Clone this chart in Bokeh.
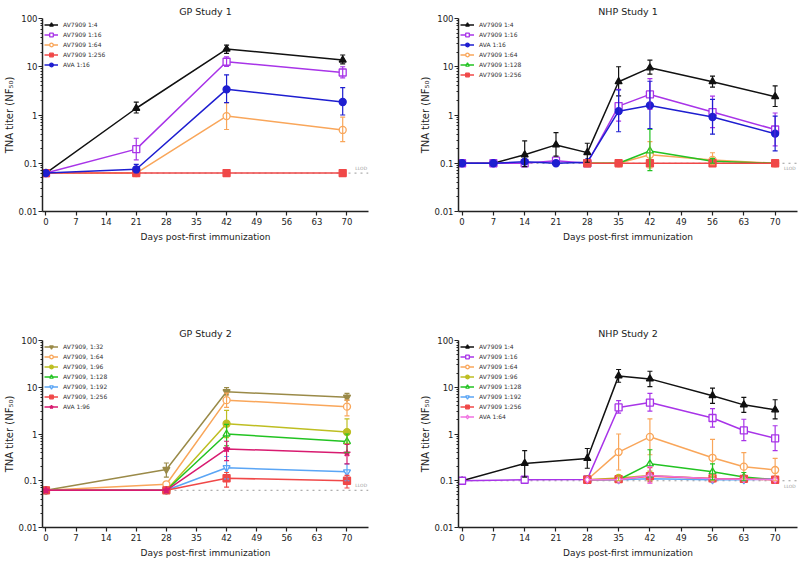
from bokeh.plotting import figure
from bokeh.models import (ColumnDataSource, Whisker, TeeHead, Legend, LegendItem,
                          Span, Label, FixedTicker, CustomJSTickFormatter, Range1d)
from bokeh.layouts import column, row
from bokeh.embed import file_html
from bokeh.resources import INLINE

FONT = "DejaVu Sans"

# ---------------- DATA ----------------
x_ticks = [0, 7, 14, 21, 28, 35, 42, 49, 56, 63, 70]
y_ticks = [0.01, 0.1, 1, 10, 100]
llod_gp = 0.0625
llod_nhp = 0.1

# GP Study 1
gp1_days = [0, 21, 42, 69]
gp1_av4 = [0.0625, 1.38, 23.3, 13.8]
gp1_av4_hi = [None, 1.85, 28.0, 17.5]
gp1_av4_lo = [None, 1.10, 19.0, 11.5]
gp1_av16 = [0.0625, 0.196, 12.7, 7.6]
gp1_av16_hi = [None, 0.33, 16.0, 10.0]
gp1_av16_lo = [None, 0.117, 10.2, 5.9]
gp1_av64 = [0.0625, 0.0625, 0.95, 0.49]
gp1_av64_hi = [None, None, 1.8, 0.9]
gp1_av64_lo = [None, None, 0.5, 0.28]
gp1_av256 = [0.0625, 0.0625, 0.0625, 0.0625]
gp1_ava16 = [0.0625, 0.075, 3.4, 1.86]
gp1_ava16_hi = [None, 0.095, 6.8, 3.7]
gp1_ava16_lo = [None, 0.064, 1.8, 1.0]

# NHP Study 1
nhp1_days = [0, 7, 14, 21, 28, 35, 42, 56, 70]
nhp1_av4 = [0.1, 0.1, 0.15, 0.24, 0.166, 4.9, 9.5, 4.9, 2.4]
nhp1_av4_hi = [None, None, 0.29, 0.43, 0.26, 10.0, 13.7, 6.4, 4.0]
nhp1_av4_lo = [None, None, 0.085, 0.14, 0.105, 2.5, 7.0, 3.8, 1.5]
nhp1_av16 = [0.1, 0.1, 0.1, 0.113, 0.1, 1.53, 2.67, 1.15, 0.5]
nhp1_av16_hi = [None, None, None, None, None, 3.4, 5.7, 2.45, 1.1]
nhp1_av16_lo = [None, None, None, None, None, 0.75, 1.3, 0.55, 0.23]
nhp1_ava16 = [0.1, 0.1, 0.108, 0.1, 0.105, 1.2, 1.58, 0.91, 0.41]
nhp1_ava16_hi = [None, None, None, None, None, 3.3, 5.0, 2.1, 0.95]
nhp1_ava16_lo = [None, None, None, None, None, 0.45, 0.52, 0.4, 0.18]
nhp1_av64 = [None, None, None, None, 0.1, 0.1, 0.15, 0.117, 0.1]
nhp1_av64_hi = [None, None, None, None, None, None, 0.28, 0.165, None]
nhp1_av64_lo = [None, None, None, None, None, None, 0.08, 0.093, None]
nhp1_av128 = [None, None, None, None, 0.1, 0.1, 0.18, 0.11, 0.1]
nhp1_av128_hi = [None, None, None, None, None, None, 0.5, 0.125, None]
nhp1_av128_lo = [None, None, None, None, None, None, 0.07, 0.1, None]
nhp1_av256 = [None, None, None, None, 0.1, 0.1, 0.1, 0.1, 0.1]

# GP Study 2
gp2_days = [0, 28, 42, 70]
gp2_av32 = [0.0625, 0.174, 8.0, 6.1]
gp2_av32_hi = [None, 0.24, 9.8, 7.4]
gp2_av32_lo = [None, 0.12, 6.9, 5.3]
gp2_av64 = [0.0625, 0.084, 5.3, 3.85]
gp2_av64_hi = [None, None, 7.5, 5.3]
gp2_av64_lo = [None, None, 3.7, 2.45]
gp2_av96 = [0.0625, 0.0625, 1.66, 1.1]
gp2_av96_hi = [None, None, 3.2, 2.1]
gp2_av96_lo = [None, None, 0.84, 0.63]
gp2_av128 = [0.0625, 0.0625, 1.0, 0.69]
gp2_av128_hi = [None, None, 1.6, 1.0]
gp2_av128_lo = [None, None, 0.56, 0.4]
gp2_av192 = [0.0625, 0.0625, 0.19, 0.155]
gp2_av192_hi = [None, None, 0.33, 0.23]
gp2_av192_lo = [None, None, 0.11, 0.1]
gp2_av256 = [0.0625, 0.0625, 0.113, 0.1]
gp2_av256_hi = [None, None, 0.15, 0.13]
gp2_av256_lo = [None, None, 0.073, 0.07]
gp2_ava96 = [0.0625, 0.0625, 0.48, 0.39]
gp2_ava96_hi = [None, None, 0.7, 0.6]
gp2_ava96_lo = [None, None, 0.27, 0.23]

# NHP Study 2
nhp2_days = [0, 14, 28, 35, 42, 56, 63, 70]
nhp2_av4 = [0.1, 0.235, 0.3, 17.5, 15.1, 6.6, 4.2, 3.3]
nhp2_av4_hi = [None, 0.44, 0.49, 24.0, 22.0, 9.6, 6.1, 5.4]
nhp2_av4_lo = [None, 0.12, 0.185, 12.8, 10.3, 4.5, 2.9, 2.1]
nhp2_av16 = [0.1, 0.105, 0.107, 3.7, 4.7, 2.2, 1.19, 0.81]
nhp2_av16_hi = [None, None, None, 5.2, 7.4, 3.5, 2.07, 1.5]
nhp2_av16_lo = [None, None, None, 2.8, 3.1, 1.4, 0.72, 0.44]
nhp2_av64 = [None, None, 0.105, 0.41, 0.87, 0.31, 0.2, 0.17]
nhp2_av64_hi = [None, None, None, 1.0, 2.1, 0.77, 0.4, 0.3]
nhp2_av64_lo = [None, None, None, 0.17, 0.36, 0.13, 0.11, 0.1]
nhp2_av96 = [None, None, 0.105, 0.115, 0.13, 0.11, 0.11, 0.105]
nhp2_av96_hi = [None, None, None, 0.125, 0.16, 0.12, None, None]
nhp2_av96_lo = [None, None, None, 0.1, 0.1, 0.1, None, None]
nhp2_av128 = [None, None, 0.105, 0.105, 0.23, 0.155, 0.12, 0.105]
nhp2_av128_hi = [None, None, None, None, 0.46, 0.23, 0.15, None]
nhp2_av128_lo = [None, None, None, None, 0.12, 0.105, 0.1, None]
nhp2_av192 = [None, None, 0.105, 0.105, 0.11, 0.105, 0.105, 0.11]
nhp2_av256 = [None, None, 0.105, 0.108, 0.125, 0.112, 0.11, 0.105]
nhp2_av256_hi = [None, None, None, None, 0.19, None, None, None]
nhp2_av256_lo = [None, None, None, None, 0.095, None, None, None]
nhp2_ava64 = [None, None, 0.105, 0.105, 0.13, 0.11, 0.108, 0.105]
nhp2_ava64_hi = [None, None, None, None, 0.2, None, None, None]
nhp2_ava64_lo = [None, None, None, None, 0.088, None, None, None]

# ---------------- STYLE ----------------
BLACK = "#111111"
PURPLE = "#A834E8"
ORANGE = "#F9A65A"
RED = "#F04848"
BLUE = "#1E1ED0"
GREEN = "#22C322"
OLIVE = "#9A8A48"
YGREEN = "#BEBE22"
LBLUE = "#5AA5F5"
CRIMSON = "#D81B70"
PINK = "#F070E0"


def panel(title, days, series, llod, llod_above, mbl, mbr, mbt, mbb, height):
    p = figure(width=400, height=height, y_axis_type="log",
               x_range=Range1d(-0.8, 75), y_range=Range1d(0.01, 100),
               output_backend="svg", toolbar_location=None,
               min_border_left=mbl, min_border_right=mbr,
               min_border_top=mbt, min_border_bottom=mbb, title=title)
    p.title.align = "center"
    p.title.text_font = FONT
    p.title.text_font_size = "9.5px"
    p.title.text_font_style = "normal"
    p.title.text_color = "#222222"
    p.title.standoff = 4
    p.outline_line_color = None
    p.grid.grid_line_color = None
    p.background_fill_color = "white"

    p.xaxis.ticker = FixedTicker(ticks=x_ticks)
    minors = [m * 10.0 ** e for e in (-2, -1, 0, 1) for m in range(2, 10)]
    p.yaxis.ticker = FixedTicker(ticks=y_ticks, minor_ticks=minors)
    p.yaxis.formatter = CustomJSTickFormatter(code="return String(tick);")
    p.xaxis.axis_label = "Days post-first immunization"
    p.yaxis.axis_label = "TNA titer (NF₅₀)"
    for ax in (p.xaxis, p.yaxis):
        ax.axis_line_width = 1.5
        ax.axis_line_color = "#222222"
        ax.major_tick_line_color = "#222222"
        ax.major_tick_line_width = 1.2
        ax.major_tick_out = 4
        ax.major_tick_in = 0
        ax.major_label_text_font = FONT
        ax.major_label_text_font_size = "8.5px"
        ax.major_label_text_color = "#222222"
        ax.major_label_standoff = 2
        ax.axis_label_text_font = FONT
        ax.axis_label_text_font_size = "9px"
        ax.axis_label_text_font_style = "normal"
        ax.axis_label_text_color = "#222222"
        ax.axis_label_standoff = 4
    p.yaxis.axis_label_text_font_size = "10px"
    p.xaxis.minor_tick_line_color = None
    p.yaxis.minor_tick_line_color = "#222222"
    p.yaxis.minor_tick_out = 2
    p.yaxis.minor_tick_in = 0
    p.yaxis.axis_label_standoff = 1
    p.yaxis.major_label_standoff = 1

    p.add_layout(Span(location=llod, dimension="width", line_color="#999999",
                      line_dash="dotted", line_width=1, level="underlay"))
    p.add_layout(Label(x=73.3, y=llod, text="LLOD", text_font=FONT,
                       text_font_size="4.5px", text_color="#999999",
                       text_align="center",
                       text_baseline="bottom" if llod_above else "top",
                       y_offset=2 if llod_above else -3))

    items = []
    for name, vals, hi, lo, color, marker, filled in series:
        xs = [d for d, v in zip(days, vals) if v is not None]
        ys = [v for v in vals if v is not None]
        if hi is not None:
            ex = [d for d, h, l in zip(days, hi, lo) if h is not None]
            eh = [h for h in hi if h is not None]
            el = [l for h, l in zip(hi, lo) if h is not None]
            src = ColumnDataSource(dict(x=ex, hi=eh, lo=el))
            p.add_layout(Whisker(base="x", upper="hi", lower="lo", source=src,
                                 line_color=color, line_width=1.2, level="glyph",
                                 upper_head=TeeHead(size=5, line_color=color, line_width=1.2),
                                 lower_head=TeeHead(size=5, line_color=color, line_width=1.2)))
        lr = p.line(xs, ys, line_color=color, line_width=1.5)
        mr = p.scatter(xs, ys, marker=marker, size=7,
                       fill_color=color if filled else "white",
                       line_color=color, line_width=1.3)
        items.append(LegendItem(label=name, renderers=[lr, mr]))

    leg = Legend(items=items, location="top_left", background_fill_alpha=0,
                 border_line_color=None, label_text_font=FONT,
                 label_text_font_size="6px", label_text_color="#333333",
                 glyph_width=14, glyph_height=9, label_height=9, spacing=1,
                 padding=0, margin=2, label_standoff=5)
    p.add_layout(leg)
    return p


p1 = panel("GP Study 1", gp1_days, [
    ("AV7909 1:4", gp1_av4, gp1_av4_hi, gp1_av4_lo, BLACK, "triangle", True),
    ("AV7909 1:16", gp1_av16, gp1_av16_hi, gp1_av16_lo, PURPLE, "square", False),
    ("AV7909 1:64", gp1_av64, gp1_av64_hi, gp1_av64_lo, ORANGE, "circle", False),
    ("AV7909 1:256", gp1_av256, None, None, RED, "square", True),
    ("AVA 1:16", gp1_ava16, gp1_ava16_hi, gp1_ava16_lo, BLUE, "circle", True),
], llod_gp, True, 38, 32, 18, 69, 280)

p2 = panel("NHP Study 1", nhp1_days, [
    ("AV7909 1:4", nhp1_av4, nhp1_av4_hi, nhp1_av4_lo, BLACK, "triangle", True),
    ("AV7909 1:16", nhp1_av16, nhp1_av16_hi, nhp1_av16_lo, PURPLE, "square", False),
    ("AVA 1:16", nhp1_ava16, nhp1_ava16_hi, nhp1_ava16_lo, BLUE, "circle", True),
    ("AV7909 1:64", nhp1_av64, nhp1_av64_hi, nhp1_av64_lo, ORANGE, "circle", False),
    ("AV7909 1:128", nhp1_av128, nhp1_av128_hi, nhp1_av128_lo, GREEN, "triangle", False),
    ("AV7909 1:256", nhp1_av256, None, None, RED, "square", True),
], llod_nhp, False, 58, 3, 18, 69, 280)

p3 = panel("GP Study 2", gp2_days, [
    ("AV7909, 1:32", gp2_av32, gp2_av32_hi, gp2_av32_lo, OLIVE, "inverted_triangle", True),
    ("AV7909, 1:64", gp2_av64, gp2_av64_hi, gp2_av64_lo, ORANGE, "circle", False),
    ("AV7909, 1:96", gp2_av96, gp2_av96_hi, gp2_av96_lo, YGREEN, "circle", True),
    ("AV7909, 1:128", gp2_av128, gp2_av128_hi, gp2_av128_lo, GREEN, "triangle", False),
    ("AV7909, 1:192", gp2_av192, gp2_av192_hi, gp2_av192_lo, LBLUE, "inverted_triangle", False),
    ("AV7909, 1:256", gp2_av256, gp2_av256_hi, gp2_av256_lo, RED, "square", True),
    ("AVA 1:96", gp2_ava96, gp2_ava96_hi, gp2_ava96_lo, CRIMSON, "star", True),
], llod_gp, True, 38, 32, 60, 27, 280)

p4 = panel("NHP Study 2", nhp2_days, [
    ("AV7909 1:4", nhp2_av4, nhp2_av4_hi, nhp2_av4_lo, BLACK, "triangle", True),
    ("AV7909 1:16", nhp2_av16, nhp2_av16_hi, nhp2_av16_lo, PURPLE, "square", False),
    ("AV7909 1:64", nhp2_av64, nhp2_av64_hi, nhp2_av64_lo, ORANGE, "circle", False),
    ("AV7909 1:96", nhp2_av96, nhp2_av96_hi, nhp2_av96_lo, YGREEN, "circle", True),
    ("AV7909 1:128", nhp2_av128, nhp2_av128_hi, nhp2_av128_lo, GREEN, "triangle", False),
    ("AV7909 1:192", nhp2_av192, None, None, LBLUE, "inverted_triangle", False),
    ("AV7909 1:256", nhp2_av256, nhp2_av256_hi, nhp2_av256_lo, RED, "square", True),
    ("AVA 1:64", nhp2_ava64, nhp2_ava64_hi, nhp2_ava64_lo, PINK, "diamond", False),
], llod_nhp, False, 58, 3, 60, 27, 280)

layout = column(row(p1, p2), row(p3, p4))
open("out.html", "w").write(file_html(layout, INLINE))
